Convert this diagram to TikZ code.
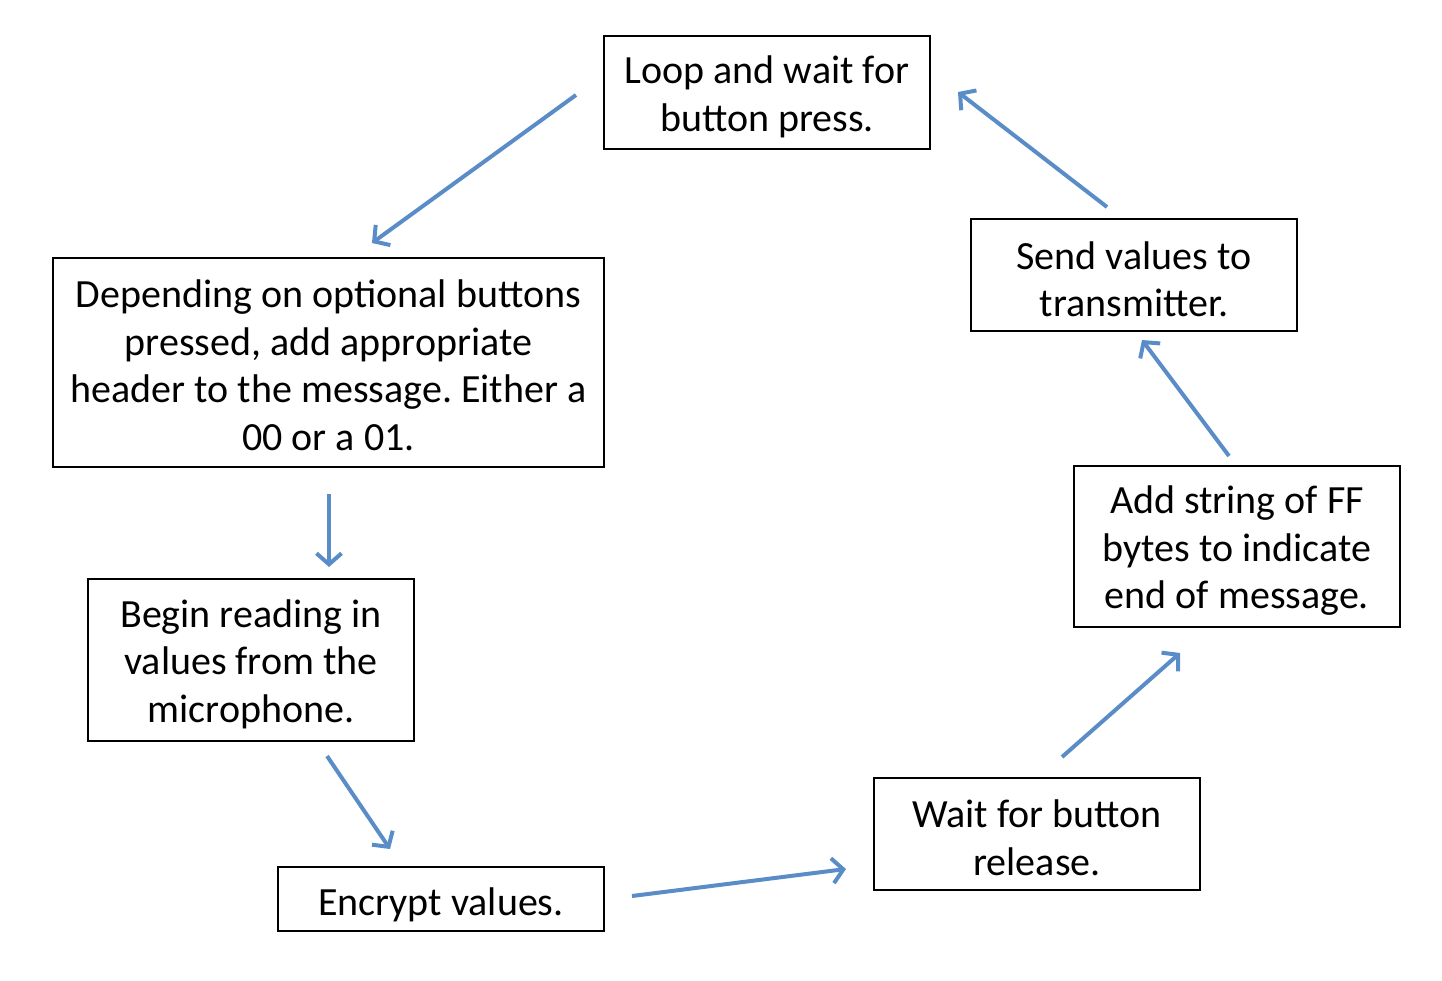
\documentclass[tikz,border=0pt]{standalone}
\usepackage{fontspec}
\setmainfont{Carlito}
\usetikzlibrary{arrows.meta}
\definecolor{arrowblue}{RGB}{90,141,200}
\tikzset{
  stepbox/.style={draw=black, line width=2pt, inner sep=0pt},
  steptext/.style={inner sep=0pt, align=center,
    font=\fontsize{40}{47.5}\selectfont\frenchspacing},
  flowarrow/.style={draw=arrowblue, line width=4pt,
    -{Straight Barb[length=11pt,width=25pt]}}
}
\begin{document}
\begin{tikzpicture}[x=1pt,y=-1pt]
\useasboundingbox (0,0) rectangle (1442,980);
\node[stepbox, minimum width=326pt, minimum height=113pt] (loop) at (767,92.5) {};
\node[steptext] (loopt) at ([yshift=-4.5pt]loop.center) {Loop and wait for\\button press.};
\node[stepbox, minimum width=551pt, minimum height=209pt] (header) at (328.5,362.5) {};
\node[steptext] (headert) at ([yshift=-3pt]header.center) {Depending on optional buttons\\pressed, add appropriate\\header to the message. Either a\\00 or a 01.};
\node[stepbox, minimum width=326pt, minimum height=162pt] (read) at (251,660) {};
\node[steptext] (readt) at ([yshift=-4pt]read.center) {Begin reading in\\values from the\\microphone.};
\node[stepbox, minimum width=326pt, minimum height=64pt] (enc) at (441,899) {};
\node[steptext] (enct) at ([yshift=-6pt]enc.center) {Encrypt values.};
\node[stepbox, minimum width=326pt, minimum height=112pt] (wait) at (1037,834) {};
\node[steptext] (waitt) at ([yshift=-4pt]wait.center) {Wait for button\\release.};
\node[stepbox, minimum width=326pt, minimum height=161pt] (ff) at (1237,546.5) {};
\node[steptext] (fft) at ([yshift=-4.5pt]ff.center) {Add string of FF\\bytes to indicate\\end of message.};
\node[stepbox, minimum width=326pt, minimum height=112pt] (send) at (1134,275) {};
\node[steptext] (sendt) at ([yshift=-4.5pt]send.center) {Send values to\\transmitter.};

\coordinate (a1s) at (576,95);   \coordinate (a1e) at (372,243);
\coordinate (a2s) at (329,494);  \coordinate (a2e) at (329,567);
\coordinate (a3s) at (327,756);  \coordinate (a3e) at (390,849);
\coordinate (a4s) at (632,896);  \coordinate (a4e) at (846,869);
\coordinate (a5s) at (1062,757); \coordinate (a5e) at (1180,653);
\coordinate (a6s) at (1229,456); \coordinate (a6e) at (1142,340);
\coordinate (a7s) at (1107,207); \coordinate (a7e) at (958,92);

\draw[flowarrow] (a1s) -- (a1e);
\draw[flowarrow] (a2s) -- (a2e);
\draw[flowarrow] (a3s) -- (a3e);
\draw[flowarrow] (a4s) -- (a4e);
\draw[flowarrow] (a5s) -- (a5e);
\draw[flowarrow] (a6s) -- (a6e);
\draw[flowarrow] (a7s) -- (a7e);
\end{tikzpicture}
\end{document}
